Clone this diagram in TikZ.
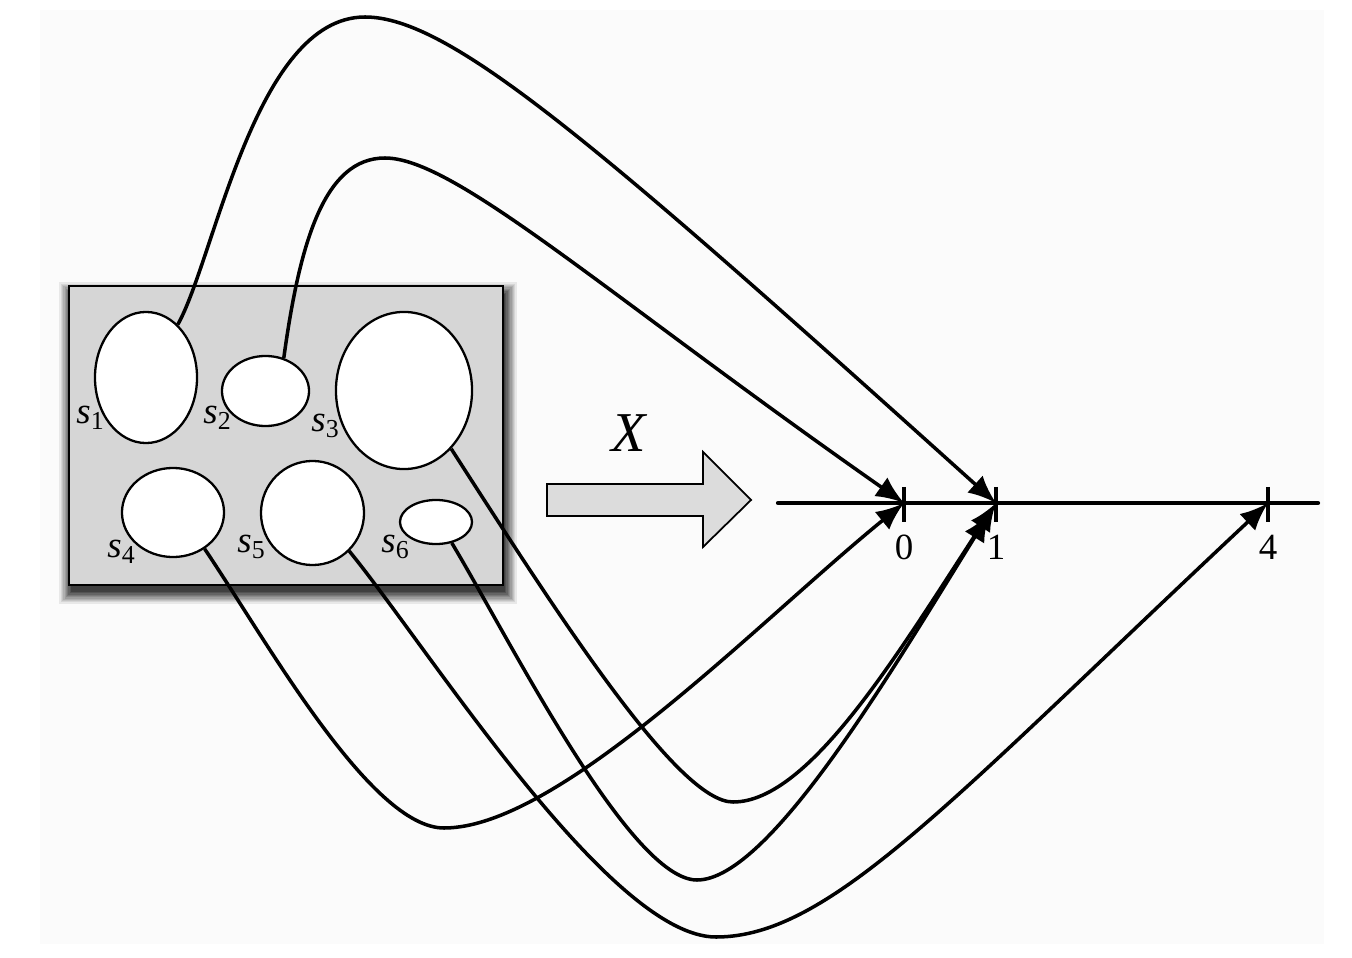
\documentclass[tikz,border=0pt]{standalone}
\usepackage{fontspec}
\setmainfont{Liberation Serif}
\usetikzlibrary{shapes.geometric, arrows.meta}

\definecolor{bgcol}{HTML}{FBFBFB}
\definecolor{boxgray}{HTML}{D6D6D6}
\definecolor{arrgray}{HTML}{DCDCDC}

\newcommand{\slab}[1]{\textit{s}\textsubscript{#1}}

\tikzset{
  set/.style={draw, ellipse, fill=white, line width=0.65pt, inner sep=0pt},
  map/.style={line width=1pt, -{Latex[length=8pt,width=6.5pt,fill=black]}},
  lbl/.style={inner sep=0pt, font=\fontsize{10.5}{10.5}\selectfont},
  tick/.style={line width=1.1pt}
}

\begin{document}
\begin{tikzpicture}[x=0.01cm, y=-0.01cm]
\useasboundingbox (0,0) rectangle (1352,958);
\fill[bgcol] (40,10) rectangle (1324,944);

%uzorak (skup stanja)
    %sjena
    \foreach \i in {1,...,10}{
        \pgfmathsetmacro{\gr}{(10-\i)*1.3}
        \pgfmathsetmacro{\shd}{\i*7.5}
        \fill[black!\shd!bgcol] ({71-\gr},{294-\gr}) rectangle ({505+\gr},{592+\gr});
    }
    \draw[fill=boxgray, line width=0.7pt] (69,286) rectangle (503,585);

    %gornji red
    \node[set, minimum width=1.02cm, minimum height=1.31cm] (s1) at (146,377.5) {};
    \node[set, minimum width=0.87cm, minimum height=0.70cm] (s2) at (265.5,391) {};
    \node[set, minimum width=1.36cm, minimum height=1.57cm] (s3) at (404,390.5) {};

    %donji red
    \node[set, minimum width=1.02cm, minimum height=0.89cm] (s4) at (173,512.5) {};
    \node[set, minimum width=1.03cm, minimum height=1.04cm] (s5) at (312.5,513) {};
    \node[set, minimum width=0.72cm, minimum height=0.44cm] (s6) at (436,522) {};

    \node[lbl] (ls1) at (91,418) {\slab{1}};
    \node[lbl] (ls2) at (218,418) {\slab{2}};
    \node[lbl] (ls3) at (326,426) {\slab{3}};
    \node[lbl] (ls4) at (122,552) {\slab{4}};
    \node[lbl] (ls5) at (252,547) {\slab{5}};
    \node[lbl] (ls6) at (396,547) {\slab{6}};

%strelica X
    \draw[fill=arrgray, line width=0.5pt] (547,484) -- (703,484) -- (703,452)
        -- (751,500) -- (703,547) -- (703,516) -- (547,516) -- cycle;
    \node[inner sep=0pt] (xl) at (630,433) {\fontsize{16}{16}\selectfont\textit{X}};

%brojevni pravac
    \coordinate (nl) at (778,503);
    \coordinate (nr) at (1318,503);
    \coordinate (t0) at (904,503);
    \coordinate (t1) at (996,503);
    \coordinate (t4) at (1268,503);
    \draw[line width=1.2pt, line cap=round] (nl) -- (nr);
    \draw[tick] ([yshift=0.16cm]t0) -- ([yshift=-0.19cm]t0);
    \draw[tick] ([yshift=0.16cm]t1) -- ([yshift=-0.19cm]t1);
    \draw[tick] ([yshift=0.16cm]t4) -- ([yshift=-0.19cm]t4);
    \node[lbl] (l0) at (904,547) {0};
    \node[lbl] (l1) at (996,547) {1};
    \node[lbl] (l4) at (1268,547) {4};

%preslikavanje
    \draw[map] (s1.59) .. controls (215,258) and (255,17) .. (365,17)
        .. controls (450,17) and (596,143) .. (t1);
    \draw[map] (s2.61) .. controls (300,240) and (325,158) .. (385,158)
        .. controls (455,158) and (604,293) .. (t0);
    \draw[map] (s3.-51) .. controls (560,618) and (678,802) .. (733,802)
        .. controls (810,802) and (900,650) .. (t1);
    \draw[map] (s4.-49) .. controls (265,638) and (370,828) .. (444,828)
        .. controls (560,828) and (760,620) .. (t0);
    \draw[map] (s5.-46) .. controls (430,650) and (610,937) .. (716,937)
        .. controls (830,937) and (950,801) .. (t4);
    \draw[map, shorten >=3.5pt] (s6.-53) .. controls (510,640) and (630,880) .. (697,880)
        .. controls (770,880) and (895,665) .. (t1);
\end{tikzpicture}
\end{document}
